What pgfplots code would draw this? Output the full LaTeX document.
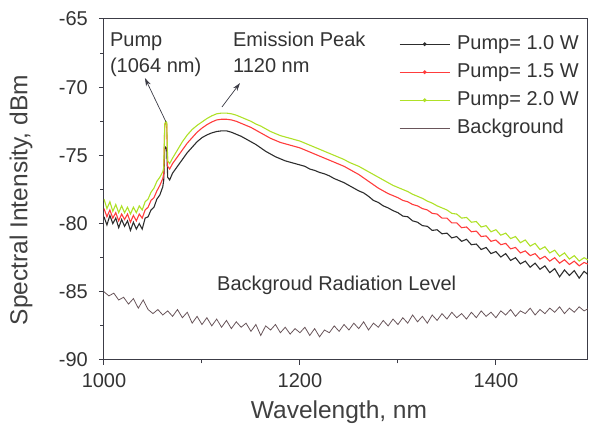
\documentclass[border=0pt]{standalone}
\usepackage{pgfplots}
\pgfplotsset{compat=1.18}
\usepackage{fontspec}
\setmainfont{Liberation Sans}
\usetikzlibrary{arrows.meta}

\definecolor{pblack}{RGB}{45,45,45}
\definecolor{pred}{RGB}{255,60,60}
\definecolor{pgreen}{RGB}{175,225,40}
\definecolor{bgc}{RGB}{105,85,90}
\definecolor{axc}{RGB}{60,60,70}

\pgfplotsset{
  dotleg/.style={legend image code/.code={\draw[##1, line width=0.9pt] (0pt,0pt) -- (50pt,0pt); \fill[##1] (25pt,0pt) circle (1.3pt);}},
  bgleg/.style={legend image code/.code={\draw[##1, line width=0.9pt] (0pt,0pt) -- (50pt,0pt);}},
}

\begin{document}
\begin{tikzpicture}
\useasboundingbox (-104pt,-67pt) rectangle (486pt,360pt);
\begin{axis}[
  scale only axis, width=484pt, height=341pt,
  xmin=1000, xmax=1494, ymin=-90, ymax=-65,
  axis line style={axc, line width=1pt},
  xtick={1000,1200,1400}, xticklabels={1000,1200,1400},
  minor xtick={1100,1300},
  ytick={-90,-85,-80,-75,-70,-65}, yticklabels={-90,-85,-80,-75,-70,-65},
  minor ytick={-87.5,-82.5,-77.5,-72.5,-67.5},
  tick align=outside, xtick pos=bottom, ytick pos=left,
  major tick length=5pt, minor tick length=3.5pt,
  tick style={axc, line width=1pt},
  ticklabel style={font=\fontsize{20}{24}\selectfont, text=black!80, inner sep=1pt},
  yticklabel style={xshift=-10pt},
  xticklabel style={yshift=-7pt},
  xlabel={Wavelength, nm}, ylabel={Spectral Intensity, dBm},
  label style={font=\fontsize{24.5}{28}\selectfont, text=black!75},
  xlabel style={at={(axis description cs:0.4855,-0.1525)}, anchor=center},
  ylabel style={at={(axis description cs:-0.1715,0.469)}, anchor=center},
  legend style={draw=none, fill=none, at={(axis description cs:0.6095,0.956)}, anchor=north west,
    font=\fontsize{20}{24}\selectfont, text=black!80, row sep=8pt, inner sep=0pt,
    nodes={inner sep=1pt, text height=14pt, text depth=4pt},
    /tikz/every odd column/.append style={column sep=6pt}},
  legend cell align=left,
]
\addplot[pblack, line width=1.1pt, dotleg] coordinates {
(1000,-79.5) (1003,-80.1) (1006,-79.4) (1009,-80.0) (1012,-79.6) (1015,-80.3) (1018,-79.7) (1021,-80.2) (1024,-79.8) (1027,-80.5) (1030,-79.9) (1033,-80.4) (1036,-80.0) (1039,-80.4) (1042,-79.6) (1045,-79.5) (1048,-79.0) (1051,-78.8) (1054,-78.2) (1057,-77.9) (1060,-77.3) (1061,-76.8) (1062,-74.6) (1063,-74.4) (1064,-74.5) (1065,-76.6) (1067,-76.8) (1070,-76.3) (1075,-75.8) (1080,-75.3) (1085,-74.8) (1090,-74.4) (1095,-74.0) (1100,-73.7) (1105,-73.5) (1110,-73.35) (1115,-73.25) (1120,-73.2) (1125,-73.2) (1130,-73.3) (1135,-73.45) (1140,-73.6) (1145,-73.8) (1150,-74.0) (1155,-74.2) (1160,-74.45) (1165,-74.7) (1170,-74.9) (1175,-75.1) (1180,-75.25) (1185,-75.4) (1190,-75.5) (1195,-75.6) (1200,-75.7) (1205,-75.8) (1210,-76.0) (1215,-76.1) (1220,-76.25) (1225,-76.35) (1230,-76.5) (1235,-76.7) (1240,-76.85) (1245,-77.0) (1250,-77.2) (1255,-77.4) (1260,-77.6) (1265,-77.75) (1270,-78.0) (1275,-78.3) (1280,-78.45) (1285,-78.7) (1290,-78.85) (1295,-79.05) (1300,-79.2) (1305,-79.45) (1310,-79.5) (1315,-79.8) (1320,-79.9) (1325,-80.15) (1330,-80.2) (1335,-80.5) (1340,-80.45) (1345,-80.75) (1350,-80.7) (1355,-81.05) (1360,-80.95) (1365,-81.3) (1370,-81.15) (1375,-81.55) (1380,-81.5) (1385,-81.9) (1390,-81.75) (1395,-82.2) (1400,-82.05) (1405,-82.45) (1410,-82.2) (1415,-82.7) (1420,-82.5) (1425,-82.95) (1430,-82.75) (1435,-83.2) (1440,-82.9) (1445,-83.35) (1450,-83.1) (1455,-83.6) (1460,-83.3) (1465,-83.9) (1470,-83.4) (1475,-83.8) (1480,-83.45) (1485,-84.0) (1490,-83.5) (1495,-83.8)
};
\addlegendentry{Pump= 1.0 W}
\addplot[pred, line width=1.1pt, dotleg] coordinates {
(1000,-78.9) (1003,-79.5) (1006,-79.0) (1009,-79.6) (1012,-79.2) (1015,-79.8) (1018,-79.3) (1021,-79.7) (1024,-79.3) (1027,-79.9) (1030,-79.4) (1033,-79.8) (1036,-79.3) (1039,-79.6) (1042,-79.0) (1045,-78.8) (1048,-78.3) (1051,-78.1) (1054,-77.6) (1057,-77.2) (1060,-76.7) (1061,-76.3) (1062,-72.8) (1063,-72.6) (1064,-72.7) (1065,-75.8) (1067,-76.0) (1070,-75.6) (1075,-75.1) (1080,-74.6) (1085,-74.1) (1090,-73.7) (1095,-73.3) (1100,-73.0) (1105,-72.75) (1110,-72.55) (1115,-72.4) (1120,-72.35) (1125,-72.35) (1130,-72.4) (1135,-72.5) (1140,-72.65) (1145,-72.8) (1150,-72.95) (1155,-73.15) (1160,-73.35) (1165,-73.55) (1170,-73.75) (1175,-73.9) (1180,-74.05) (1185,-74.15) (1190,-74.25) (1195,-74.35) (1200,-74.45) (1205,-74.6) (1210,-74.75) (1215,-74.9) (1220,-75.05) (1225,-75.2) (1230,-75.35) (1235,-75.5) (1240,-75.65) (1245,-75.8) (1250,-76.0) (1255,-76.2) (1260,-76.4) (1265,-76.65) (1270,-76.9) (1275,-77.15) (1280,-77.4) (1285,-77.6) (1290,-77.8) (1295,-77.95) (1300,-78.1) (1305,-78.3) (1310,-78.4) (1315,-78.6) (1320,-78.7) (1325,-78.9) (1330,-79.0) (1335,-79.25) (1340,-79.3) (1345,-79.6) (1350,-79.6) (1355,-79.95) (1360,-79.95) (1365,-80.3) (1370,-80.25) (1375,-80.6) (1380,-80.55) (1385,-80.95) (1390,-80.9) (1395,-81.3) (1400,-81.2) (1405,-81.55) (1410,-81.45) (1415,-81.85) (1420,-81.75) (1425,-82.15) (1430,-82.0) (1435,-82.35) (1440,-82.2) (1445,-82.6) (1450,-82.4) (1455,-82.75) (1460,-82.5) (1465,-82.9) (1470,-82.65) (1475,-83.0) (1480,-82.75) (1485,-83.1) (1490,-82.85) (1495,-83.0)
};
\addlegendentry{Pump= 1.5 W}
\addplot[pgreen, line width=1.1pt, dotleg] coordinates {
(1000,-78.2) (1003,-78.9) (1006,-78.4) (1009,-79.1) (1012,-78.6) (1015,-79.2) (1018,-78.7) (1021,-79.2) (1024,-78.8) (1027,-79.3) (1030,-78.8) (1033,-79.2) (1036,-78.7) (1039,-79.0) (1042,-78.4) (1045,-78.2) (1048,-77.7) (1051,-77.4) (1054,-76.9) (1057,-76.6) (1060,-76.2) (1061,-75.9) (1062,-72.7) (1063,-72.5) (1064,-72.6) (1065,-75.4) (1067,-75.6) (1070,-75.2) (1075,-74.6) (1080,-74.0) (1085,-73.5) (1090,-73.1) (1095,-72.8) (1100,-72.55) (1105,-72.3) (1110,-72.1) (1115,-71.95) (1120,-71.9) (1125,-71.9) (1130,-71.95) (1135,-72.05) (1140,-72.2) (1145,-72.35) (1150,-72.5) (1155,-72.7) (1160,-72.85) (1165,-73.05) (1170,-73.25) (1175,-73.4) (1180,-73.55) (1185,-73.65) (1190,-73.75) (1195,-73.85) (1200,-73.95) (1205,-74.1) (1210,-74.25) (1215,-74.4) (1220,-74.55) (1225,-74.7) (1230,-74.85) (1235,-75.0) (1240,-75.15) (1245,-75.3) (1250,-75.5) (1255,-75.65) (1260,-75.8) (1265,-76.0) (1270,-76.2) (1275,-76.4) (1280,-76.6) (1285,-76.8) (1290,-77.0) (1295,-77.2) (1300,-77.35) (1305,-77.5) (1310,-77.65) (1315,-77.85) (1320,-78.0) (1325,-78.15) (1330,-78.35) (1335,-78.5) (1340,-78.7) (1345,-78.85) (1350,-79.0) (1355,-79.25) (1360,-79.3) (1365,-79.6) (1370,-79.55) (1375,-79.9) (1380,-79.85) (1385,-80.25) (1390,-80.15) (1395,-80.6) (1400,-80.45) (1405,-80.85) (1410,-80.7) (1415,-81.1) (1420,-80.95) (1425,-81.4) (1430,-81.2) (1435,-81.65) (1440,-81.45) (1445,-81.9) (1450,-81.7) (1455,-82.15) (1460,-81.95) (1465,-82.4) (1470,-82.15) (1475,-82.6) (1480,-82.35) (1485,-82.75) (1490,-82.5) (1495,-82.7)
};
\addlegendentry{Pump= 2.0 W}
\addplot[bgc, line width=0.8pt, bgleg] coordinates {
(1000,-85.0) (1005,-85.3) (1010,-85.1) (1015,-85.6) (1020,-85.4) (1025,-85.9) (1030,-85.5) (1035,-86.2) (1040,-85.6) (1045,-86.3) (1050,-86.6) (1055,-86.3) (1060,-86.7) (1065,-86.4) (1070,-86.8) (1075,-86.3) (1080,-86.9) (1085,-86.5) (1090,-87.3) (1095,-86.8) (1100,-87.4) (1105,-86.9) (1110,-87.5) (1115,-87.0) (1120,-87.6) (1125,-87.1) (1130,-87.7) (1135,-87.2) (1140,-87.6) (1145,-87.3) (1150,-87.9) (1155,-87.4) (1160,-88.2) (1165,-87.5) (1170,-87.8) (1175,-87.4) (1180,-88.0) (1185,-87.6) (1190,-88.1) (1195,-87.7) (1200,-88.0) (1205,-87.6) (1210,-88.2) (1215,-87.7) (1220,-88.3) (1225,-87.8) (1230,-88.0) (1235,-87.5) (1240,-87.9) (1245,-87.4) (1250,-87.8) (1255,-87.3) (1260,-87.7) (1265,-87.2) (1270,-87.8) (1275,-87.3) (1280,-87.6) (1285,-87.1) (1290,-87.5) (1295,-87.0) (1300,-87.4) (1305,-86.9) (1310,-87.3) (1315,-86.7) (1320,-87.2) (1325,-86.8) (1330,-87.3) (1335,-86.7) (1340,-87.1) (1345,-86.6) (1350,-87.0) (1355,-86.5) (1360,-86.9) (1365,-86.6) (1370,-87.0) (1375,-86.5) (1380,-86.9) (1385,-86.4) (1390,-86.8) (1395,-86.5) (1400,-86.9) (1405,-86.4) (1410,-86.7) (1415,-86.3) (1420,-86.8) (1425,-86.4) (1430,-86.6) (1435,-86.2) (1440,-86.7) (1445,-86.3) (1450,-86.6) (1455,-86.2) (1460,-86.5) (1465,-86.1) (1470,-86.6) (1475,-86.2) (1480,-86.5) (1485,-86.1) (1490,-86.4) (1495,-86.2)
};
\addlegendentry{Background}

\node[anchor=base west, inner sep=0pt, font=\fontsize{20}{24}\selectfont, text=black!80] at (axis cs:1006,-67.05) {Pump};
\node[anchor=base west, inner sep=0pt, font=\fontsize{20}{24}\selectfont, text=black!80] at (axis cs:1006,-68.89) {(1064 nm)};
\node[anchor=base west, inner sep=0pt, font=\fontsize{20}{24}\selectfont, text=black!80] at (axis cs:1131.6,-67.05) {Emission Peak};
\node[anchor=base west, inner sep=0pt, font=\fontsize{20}{24}\selectfont, text=black!80] at (axis cs:1131.6,-68.89) {1120 nm};
\node[anchor=base west, inner sep=0pt, font=\fontsize{20}{24}\selectfont, text=black!80] at (axis cs:1115.3,-84.87) {Backgroud Radiation Level};
\draw[-{Stealth[length=8pt,width=5pt]}, axc, line width=0.7pt] (axis cs:1063.3,-72.55) -- (axis cs:1041.8,-69.33);
\draw[-{Stealth[length=8pt,width=5pt]}, axc, line width=0.7pt] (axis cs:1120.4,-71.45) -- (axis cs:1138.8,-69.7);
\end{axis}
\end{tikzpicture}
\end{document}
